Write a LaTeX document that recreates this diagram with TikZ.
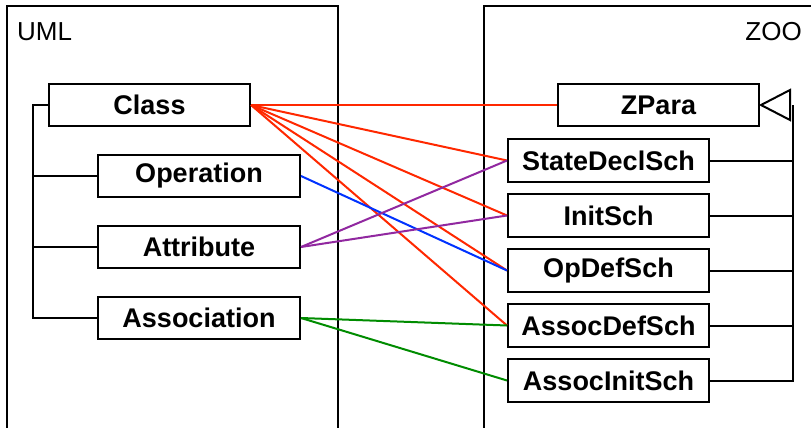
\documentclass[tikz,border=0pt]{standalone}
\usepackage{fontspec}
\setmainfont{Liberation Sans}
\begin{document}
\begin{tikzpicture}[x=1pt,y=-1pt,
  box/.style={draw=black, line width=2pt, fill=white, inner sep=0pt,
    minimum width=201pt, minimum height=42pt,
    font=\fontsize{27}{30}\selectfont\bfseries},
  frame/.style={line width=2pt, black},
  tree/.style={line width=2pt, black},
  conn/.style={line width=2pt},
  lbl/.style={inner sep=0pt, font=\fontsize{26}{30}\selectfont}
]
\definecolor{cred}{RGB}{255,40,0}
\definecolor{cblue}{RGB}{0,50,255}
\definecolor{cpurple}{RGB}{145,40,160}
\definecolor{cgreen}{RGB}{0,140,0}
\useasboundingbox (0,0) rectangle (811,428);
\fill[white] (0,0) rectangle (811,428);

% package frames
\draw[frame] (7,432) -- (7,6) -- (338,6) -- (338,432);
\draw[frame] (484,432) -- (484,6) -- (815,6);
\node[lbl, anchor=base west] (uml) at (17,41) {UML};
\node[lbl, anchor=base east] (zoo) at (802,41) {ZOO};

% left nodes
\node[box] (class) at (149.5,105) {Class};
\node[box, minimum width=202pt] (op) at (199,176) {Operation};
\node[box, minimum width=202pt] (attr) at (199,247) {Attribute};
\node[box, minimum width=202pt] (assoc) at (199,318) {Association};

% right nodes
\node[box] (zpara) at (658.5,105) {ZPara};
\node[box, minimum height=43pt] (sds) at (608.5,160.5) {StateDeclSch};
\node[box, minimum height=43pt] (init) at (608.5,215.5) {InitSch};
\node[box, minimum height=43pt] (opdef) at (608.5,270.5) {OpDefSch};
\node[box, minimum height=43pt] (adef) at (608.5,325.5) {AssocDefSch};
\node[box, minimum height=43pt] (ainit) at (608.5,380.5) {AssocInitSch};

% left tree
\coordinate (lt) at (33,105);
\coordinate (lb) at (33,318);
\draw[tree] (class.west) -- (lt) -- (lb) -- (assoc.west);
\draw[tree] (33,176) -- (op.west);
\draw[tree] (33,247) -- (attr.west);

% right generalization tree
\coordinate (tri) at (790,105);
\coordinate (rb) at (793,380.5);
\draw[tree] (793,105) -- (rb) -- (ainit.east);
\draw[tree] (sds.east) -- (793,160.5);
\draw[tree] (init.east) -- (793,215.5);
\draw[tree] (opdef.east) -- (793,270.5);
\draw[tree] (adef.east) -- (793,325.5);
\draw[tree, fill=white, line join=miter] (790,90) -- (761,105) -- (790,120) -- cycle;

% connectors
\draw[conn, cred] (class.east) -- (zpara.west);
\draw[conn, cred] (class.east) -- (sds.west);
\draw[conn, cred] (class.east) -- (init.west);
\draw[conn, cred] (class.east) -- (opdef.west);
\draw[conn, cred] (class.east) -- (adef.west);
\draw[conn, cblue] (op.east) -- (opdef.west);
\draw[conn, cpurple] (attr.east) -- (sds.west);
\draw[conn, cpurple] (attr.east) -- (init.west);
\draw[conn, cgreen] (assoc.east) -- (adef.west);
\draw[conn, cgreen] (assoc.east) -- (ainit.west);
\end{tikzpicture}
\end{document}
